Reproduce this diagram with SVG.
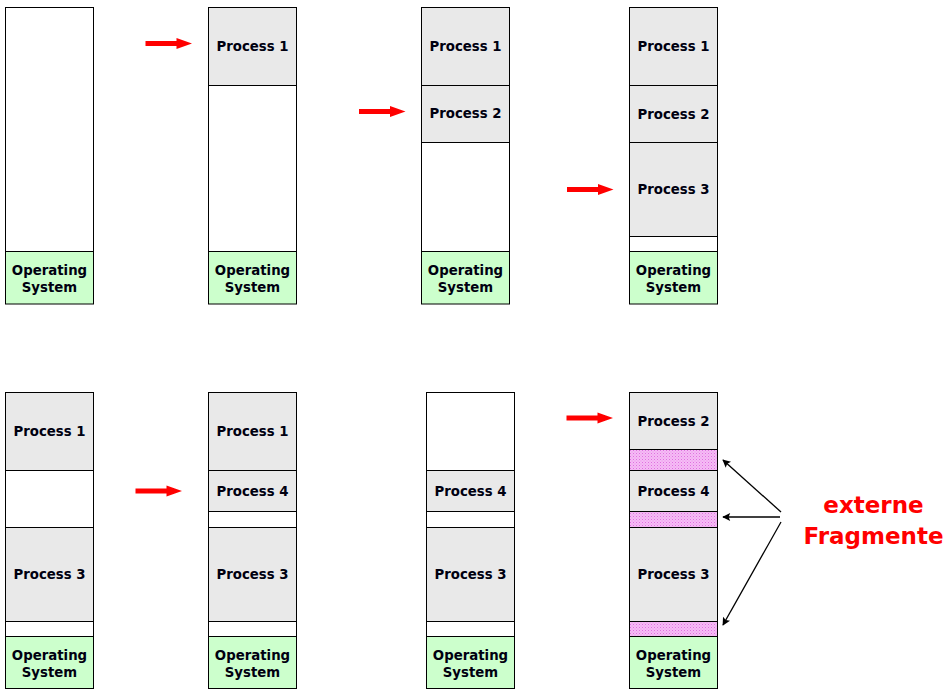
<svg xmlns="http://www.w3.org/2000/svg" width="947" height="696" viewBox="0 0 947 696">
<style>
.box{stroke:#000;stroke-width:1}
.free{fill:#fff}
.proc{fill:#e9e9e9}
.os{fill:#ccffcc}
.frag{fill:url(#dots)}
.lbl{font-family:"DejaVu Sans",Verdana,sans-serif;font-weight:bold;font-size:13.3px;fill:#000010;text-anchor:middle}
.red{fill:#ff0000}
.ptr{stroke:#000;stroke-width:1.3;fill:none;marker-end:url(#ah)}
.big{font-family:"DejaVu Sans",Verdana,sans-serif;font-weight:bold;font-size:23px;fill:#ff0000;text-anchor:middle}
</style>
<defs>
<pattern id="dots" width="3" height="3" patternUnits="userSpaceOnUse">
<rect width="3" height="3" fill="#f5bcf5"/>
<rect width="1" height="1" fill="#e070e0"/>
<rect x="1.5" y="1.5" width="1" height="1" fill="#ea90ea"/>
</pattern>
<marker id="ah" viewBox="0 0 10 10" refX="9" refY="5" markerWidth="10" markerHeight="8" markerUnits="userSpaceOnUse" orient="auto">
<path d="M0,0 L10,5 L0,10 L2,5 z" fill="#000"/>
</marker>
<path id="redarrow" d="M0,-2.5 H31 V-5.5 L46.5,0 L31,5.5 V2.5 H0 z"/>
</defs>

<!-- Top row -->
<g id="t1">
<rect class="box free" x="5.5" y="7.5" width="88" height="244"/>
<rect class="box os" x="5.5" y="251.5" width="88" height="52.5"/>
<text class="lbl" x="49.5" y="275">Operating</text>
<text class="lbl" x="49.5" y="292">System</text>
</g>
<g id="t2">
<rect class="box proc" x="208.5" y="7.5" width="88" height="78"/>
<text class="lbl" x="252.5" y="51">Process 1</text>
<rect class="box free" x="208.5" y="85.5" width="88" height="166"/>
<rect class="box os" x="208.5" y="251.5" width="88" height="52.5"/>
<text class="lbl" x="252.5" y="275">Operating</text>
<text class="lbl" x="252.5" y="292">System</text>
</g>
<g id="t3">
<rect class="box proc" x="421.5" y="7.5" width="88" height="78"/>
<text class="lbl" x="465.5" y="51">Process 1</text>
<rect class="box proc" x="421.5" y="85.5" width="88" height="57"/>
<text class="lbl" x="465.5" y="117.5">Process 2</text>
<rect class="box free" x="421.5" y="142.5" width="88" height="109"/>
<rect class="box os" x="421.5" y="251.5" width="88" height="52.5"/>
<text class="lbl" x="465.5" y="275">Operating</text>
<text class="lbl" x="465.5" y="292">System</text>
</g>
<g id="t4">
<rect class="box proc" x="629.5" y="7.5" width="88" height="78"/>
<text class="lbl" x="673.5" y="51">Process 1</text>
<rect class="box proc" x="629.5" y="85.5" width="88" height="57"/>
<text class="lbl" x="673.5" y="118.5">Process 2</text>
<rect class="box proc" x="629.5" y="142.5" width="88" height="94"/>
<text class="lbl" x="673.5" y="194">Process 3</text>
<rect class="box free" x="629.5" y="236.5" width="88" height="15"/>
<rect class="box os" x="629.5" y="251.5" width="88" height="52.5"/>
<text class="lbl" x="673.5" y="275">Operating</text>
<text class="lbl" x="673.5" y="292">System</text>
</g>

<!-- Bottom row -->
<g id="b1">
<rect class="box proc" x="5.5" y="392.5" width="88" height="78"/>
<text class="lbl" x="49.5" y="436">Process 1</text>
<rect class="box free" x="5.5" y="470.5" width="88" height="57"/>
<rect class="box proc" x="5.5" y="527.5" width="88" height="94"/>
<text class="lbl" x="49.5" y="579">Process 3</text>
<rect class="box free" x="5.5" y="621.5" width="88" height="15"/>
<rect class="box os" x="5.5" y="636.5" width="88" height="52"/>
<text class="lbl" x="49.5" y="659.5">Operating</text>
<text class="lbl" x="49.5" y="676.5">System</text>
</g>
<g id="b2">
<rect class="box proc" x="208.5" y="392.5" width="88" height="78"/>
<text class="lbl" x="252.5" y="436">Process 1</text>
<rect class="box proc" x="208.5" y="470.5" width="88" height="41"/>
<text class="lbl" x="252.5" y="495.5">Process 4</text>
<rect class="box free" x="208.5" y="511.5" width="88" height="16"/>
<rect class="box proc" x="208.5" y="527.5" width="88" height="94"/>
<text class="lbl" x="252.5" y="579">Process 3</text>
<rect class="box free" x="208.5" y="621.5" width="88" height="15"/>
<rect class="box os" x="208.5" y="636.5" width="88" height="52"/>
<text class="lbl" x="252.5" y="659.5">Operating</text>
<text class="lbl" x="252.5" y="676.5">System</text>
</g>
<g id="b3">
<rect class="box free" x="426.5" y="392.5" width="88" height="78"/>
<rect class="box proc" x="426.5" y="470.5" width="88" height="41"/>
<text class="lbl" x="470.5" y="495.5">Process 4</text>
<rect class="box free" x="426.5" y="511.5" width="88" height="16"/>
<rect class="box proc" x="426.5" y="527.5" width="88" height="94"/>
<text class="lbl" x="470.5" y="579">Process 3</text>
<rect class="box free" x="426.5" y="621.5" width="88" height="15"/>
<rect class="box os" x="426.5" y="636.5" width="88" height="52"/>
<text class="lbl" x="470.5" y="659.5">Operating</text>
<text class="lbl" x="470.5" y="676.5">System</text>
</g>
<g id="b4">
<rect class="box proc" x="629.5" y="392.5" width="88" height="57"/>
<text class="lbl" x="673.5" y="425.5">Process 2</text>
<rect class="box frag" x="629.5" y="449.5" width="88" height="21"/>
<rect class="box proc" x="629.5" y="470.5" width="88" height="41"/>
<text class="lbl" x="673.5" y="495.5">Process 4</text>
<rect class="box frag" x="629.5" y="511.5" width="88" height="16"/>
<rect class="box proc" x="629.5" y="527.5" width="88" height="94"/>
<text class="lbl" x="673.5" y="579">Process 3</text>
<rect class="box frag" x="629.5" y="621.5" width="88" height="15"/>
<rect class="box os" x="629.5" y="636.5" width="88" height="52"/>
<text class="lbl" x="673.5" y="659.5">Operating</text>
<text class="lbl" x="673.5" y="676.5">System</text>
</g>

<g id="label">
<text class="big" x="873.5" y="512.5">externe</text>
<text class="big" x="873.5" y="543.5">Fragmente</text>
</g>

<g id="connectors">
<use href="#redarrow" class="red" x="145.5" y="43.5"/>
<use href="#redarrow" class="red" x="359" y="111.5"/>
<use href="#redarrow" class="red" x="567" y="189.5"/>
<use href="#redarrow" class="red" x="135.5" y="491"/>
<use href="#redarrow" class="red" x="566.5" y="418"/>
<line class="ptr" x1="781" y1="512" x2="723" y2="460"/>
<line class="ptr" x1="780" y1="517" x2="723" y2="517"/>
<line class="ptr" x1="781" y1="522" x2="723" y2="625"/>
</g>
</svg>
